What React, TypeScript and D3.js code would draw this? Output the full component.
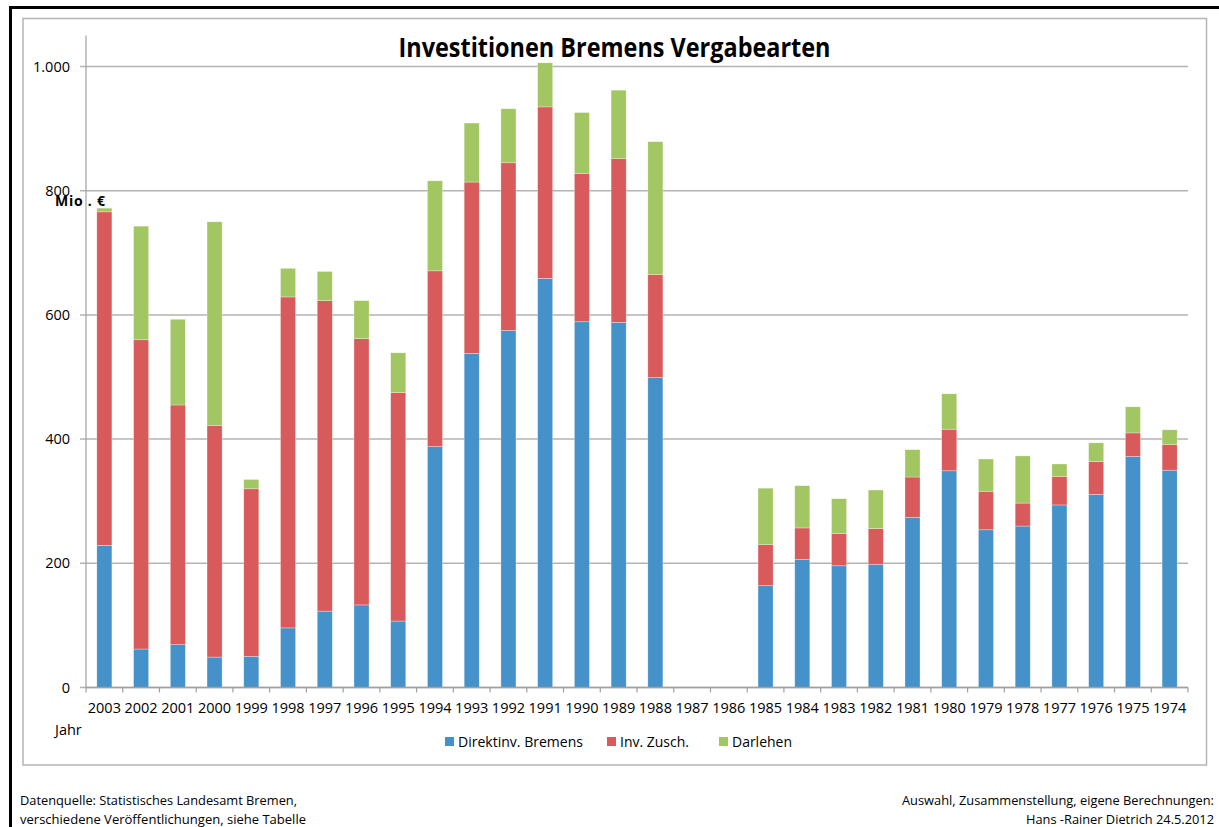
import React from "react";
import * as d3 from "d3";

const years = [
  "2003", "2002", "2001", "2000", "1999", "1998", "1997", "1996", "1995", "1994",
  "1993", "1992", "1991", "1990", "1989", "1988", "1987", "1986", "1985", "1984",
  "1983", "1982", "1981", "1980", "1979", "1978", "1977", "1976", "1975", "1974",
];
const direktinv = [
  229, 62, 69, 49, 50, 96, 123, 133, 107, 388, 538, 575, 659, 589, 588, 499, 0, 0,
  164, 206, 196, 198, 274, 349, 254, 260, 294, 311, 372, 350,
];
const invZusch = [
  537, 498, 386, 373, 270, 533, 500, 429, 368, 283, 276, 270, 276, 239, 264, 166, 0, 0,
  66, 51, 52, 58, 65, 67, 62, 37, 46, 53, 38, 41,
];
const darlehen = [
  6, 183, 138, 328, 15, 46, 47, 61, 64, 145, 95, 87, 71, 98, 110, 214, 0, 0,
  91, 68, 56, 62, 44, 57, 52, 76, 20, 30, 42, 24,
];
const seriesNames = ["Direktinv. Bremens", "Inv. Zusch.", "Darlehen"];
const seriesColors = ["#4592ca", "#d95a5a", "#a2c662"];
const yTicks = [0, 200, 400, 600, 800, 1000];

const font = "'Open Sans', 'Liberation Sans', sans-serif";

const App = () => {
  const x0 = 86,
    x1 = 1188,
    yBase = 687.5;
  const x = d3.scaleBand().domain(years).range([x0, x1]).paddingInner(0.59).paddingOuter(0.295);
  const y = d3.scaleLinear().domain([0, 1050]).range([yBase, 35.5]);

  const rows = years.map((yr, i) => ({ year: yr, a: direktinv[i], b: invZusch[i], c: darlehen[i] }));
  const stacked = d3.stack().keys(["a", "b", "c"])(rows);
  const step = x.step();
  const fmt = (v) => (v === 1000 ? "1.000" : String(v));

  const legendX = [445, 607, 719];
  const legendW = [125, 69, 60];

  return (
    <>
      <style>{`body{margin:0}`}</style>
      <svg width={1219} height={827} style={{ display: "block", fontFamily: font }}>
        <rect width={1219} height={827} fill="#fff" />
        {/* outer black frame */}
        <line x1={9} x2={1219} y1={7.5} y2={7.5} stroke="#000" strokeWidth={3} />
        <line x1={10.5} x2={10.5} y1={6} y2={827} stroke="#000" strokeWidth={3} />
        {/* chart area border */}
        <rect x={23} y={18.5} width={1183.5} height={746.5} fill="none" stroke="#b5b5b5" strokeWidth={1.5} />

        {/* gridlines */}
        {yTicks.map((t) => (
          <line key={t} x1={x0 - 6} x2={x1} y1={y(t)} y2={y(t)} stroke="#b3b3b3" strokeWidth={1.5} />
        ))}
        <line x1={x0} x2={x0} y1={35.5} y2={yBase} stroke="#a0a0a0" strokeWidth={1.2} />
        {yTicks.map((t) => (
          <text key={t} x={70} y={y(t)} dy="0.35em" textAnchor="end" fontSize={14.5} fill="#000">
            {fmt(t)}
          </text>
        ))}

        {/* bars */}
        {stacked.map((s, si) => (
          <g key={si} fill={seriesColors[si]}>
            {s.map((d, i) =>
              d[1] - d[0] > 0 ? (
                <rect
                  key={i}
                  x={x(years[i])}
                  y={y(d[1])}
                  width={x.bandwidth()}
                  height={y(d[0]) - y(d[1])}
                  stroke="#ffffff"
                  strokeOpacity={0.5}
                  strokeWidth={0.6}
                />
              ) : null
            )}
          </g>
        ))}

        {/* x axis */}
        <line x1={x0} x2={x1} y1={yBase} y2={yBase} stroke="#a0a0a0" strokeWidth={1.5} />
        {d3.range(years.length + 1).map((i) => (
          <line key={i} x1={x0 + i * step} x2={x0 + i * step} y1={yBase} y2={yBase + 5} stroke="#a0a0a0" strokeWidth={1.2} />
        ))}
        {years.map((yr) => (
          <text key={yr} x={x(yr) + x.bandwidth() / 2} y={713} textAnchor="middle" fontSize={14.5} fill="#000">
            {yr}
          </text>
        ))}

        {/* labels */}
        <text x={614.5} y={57} textAnchor="middle" fontSize={26} fontWeight="bold" textLength={432} lengthAdjust="spacingAndGlyphs">
          Investitionen Bremens Vergabearten
        </text>
        <text x={55} y={206} fontSize={14} fontWeight="bold" textLength={50} lengthAdjust="spacing">
          Mio . €
        </text>
        <text x={55} y={735} fontSize={14.5}>
          Jahr
        </text>

        {/* legend */}
        {seriesNames.map((n, i) => (
          <g key={n}>
            <rect x={legendX[i]} y={737} width={9} height={9} fill={seriesColors[i]} />
            <text x={legendX[i] + 13} y={746.5} fontSize={14} textLength={legendW[i]} lengthAdjust="spacingAndGlyphs">
              {n}
            </text>
          </g>
        ))}

        {/* footer */}
        <text x={20} y={805} fontSize={12.5} textLength={277} lengthAdjust="spacingAndGlyphs">
          Datenquelle: Statistisches Landesamt Bremen,
        </text>
        <text x={20} y={824} fontSize={12.5} textLength={286} lengthAdjust="spacingAndGlyphs">
          verschiedene Veröffentlichungen, siehe Tabelle
        </text>
        <text x={902} y={805} fontSize={12.8} textLength={312} lengthAdjust="spacingAndGlyphs">
          Auswahl, Zusammenstellung, eigene Berechnungen:
        </text>
        <text x={1026} y={824} fontSize={12.8} textLength={188} lengthAdjust="spacingAndGlyphs">
          Hans -Rainer Dietrich 24.5.2012
        </text>
      </svg>
    </>
  );
};

export default App;
